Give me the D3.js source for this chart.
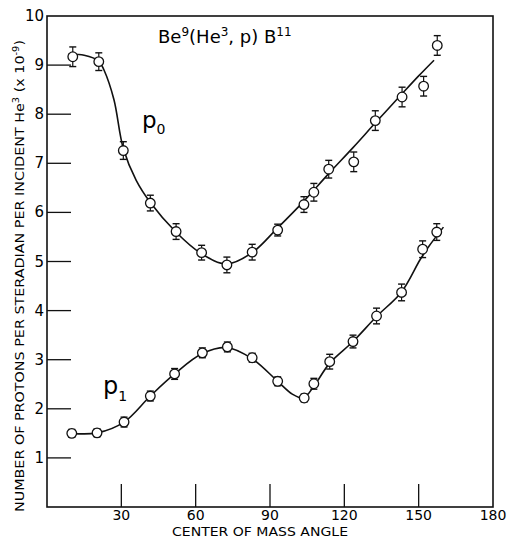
<!DOCTYPE html>
<html>
<head>
<meta charset="utf-8">
<script src="https://cdn.jsdelivr.net/npm/d3@7"></script>
<style>
  body { margin: 0; background: #fff; }
  svg { display: block; font-family: "DejaVu Sans", "Liberation Sans", sans-serif; }
  text { fill: #000; }
</style>
</head>
<body>
<svg id="chart" width="508" height="538"></svg>
<script>
// measured points (angle in degrees, yield x 10^-9)
const p0Angle = [10.4, 20.9, 30.8, 41.7, 52.1, 62.4, 72.6, 82.8, 93.1, 103.7, 107.7, 113.7, 123.8, 132.5, 143.3, 152.0, 157.5];
const p0Value = [9.17, 9.07, 7.26, 6.19, 5.61, 5.18, 4.93, 5.19, 5.64, 6.16, 6.41, 6.88, 7.03, 7.87, 8.35, 8.57, 9.40];
const p0Err   = [0.20, 0.18, 0.18, 0.16, 0.16, 0.15, 0.16, 0.16, 0.12, 0.16, 0.18, 0.18, 0.20, 0.20, 0.20, 0.20, 0.20];

const p1Angle = [10.0, 20.2, 31.1, 41.7, 51.5, 62.7, 72.8, 82.8, 93.1, 103.8, 107.7, 114.1, 123.5, 133.0, 143.1, 151.6, 157.3];
const p1Value = [1.50, 1.51, 1.73, 2.26, 2.71, 3.14, 3.26, 3.04, 2.56, 2.22, 2.51, 2.96, 3.37, 3.89, 4.37, 5.25, 5.60];
const p1Err   = [0.08, 0.08, 0.10, 0.10, 0.11, 0.10, 0.10, 0.09, 0.09, 0.08, 0.11, 0.15, 0.13, 0.16, 0.17, 0.17, 0.17];

// hand-drawn fit curves
const p0CurveAngle = [8.5, 15, 20.9, 23, 27, 30.8, 36, 41.7, 52, 62, 72.5, 82.8, 93, 103.5, 113.5, 123.5, 133, 143, 150, 156.2];
const p0CurveValue = [9.22, 9.2, 9.08, 8.9, 8.3, 7.3, 6.65, 6.2, 5.6, 5.17, 4.95, 5.18, 5.68, 6.22, 6.78, 7.32, 7.85, 8.4, 8.78, 9.1];

const p1CurveAngle = [10.0, 20.2, 31.1, 41.7, 51.5, 62.5, 72.5, 82.5, 93.1, 99, 103.5, 107.7, 114.1, 123.5, 133, 143.1, 150.5, 154, 160];
const p1CurveValue = [1.50, 1.51, 1.73, 2.26, 2.71, 3.12, 3.25, 3.03, 2.56, 2.30, 2.22, 2.46, 2.93, 3.37, 3.88, 4.38, 5.03, 5.30, 5.70];

const xTicks = [30, 60, 90, 120, 150, 180];
const yTicks = [1, 2, 3, 4, 5, 6, 7, 8, 9, 10];

const svg = d3.select("#chart");
const width = +svg.attr("width");
const height = +svg.attr("height");
const margin = {top: 16, right: 15, bottom: 31, left: 47};

const x = d3.scaleLinear().domain([0, 180]).range([margin.left, width - margin.right]);
const y = d3.scaleLinear().domain([0, 10]).range([height - margin.bottom, margin.top]);

// frame
svg.append("rect")
    .attr("x", x(0)).attr("y", y(10))
    .attr("width", x(180) - x(0)).attr("height", y(0) - y(10))
    .attr("fill", "none").attr("stroke", "#111").attr("stroke-width", 1.6);

// inner ticks
svg.append("g").selectAll("line")
    .data(yTicks.filter(d => d < 10))
    .join("line")
    .attr("x1", x(0)).attr("x2", x(0) + 24)
    .attr("y1", d => y(d)).attr("y2", d => y(d))
    .attr("stroke", "#111").attr("stroke-width", 1.3);

svg.append("g").selectAll("line")
    .data(xTicks.filter(d => d < 180))
    .join("line")
    .attr("x1", d => x(d)).attr("x2", d => x(d))
    .attr("y1", y(0)).attr("y2", y(0) - 23)
    .attr("stroke", "#111").attr("stroke-width", 1.3);

// tick labels
svg.append("g").selectAll("text")
    .data(yTicks)
    .join("text")
    .attr("x", x(0) - 3)
    .attr("y", d => y(d) + 5)
    .attr("text-anchor", "end")
    .style("font-size", "15px")
    .text(d => d);

svg.append("g").selectAll("text")
    .data(xTicks)
    .join("text")
    .attr("x", d => x(d))
    .attr("y", 520)
    .attr("text-anchor", "middle")
    .style("font-size", "14px")
    .text(d => d);

// axis titles
svg.append("text")
    .attr("x", 172)
    .attr("y", 536)
    .attr("textLength", 176)
    .attr("lengthAdjust", "spacingAndGlyphs")
    .style("font-size", "13px")
    .text("CENTER OF MASS ANGLE");

const yLab = svg.append("text")
    .attr("transform", "translate(24, 512) rotate(-90)")
    .attr("x", 0).attr("y", 0)
    .attr("textLength", 472)
    .attr("lengthAdjust", "spacingAndGlyphs")
    .style("font-size", "13px");
yLab.append("tspan").text("NUMBER OF PROTONS PER STERADIAN PER INCIDENT He");
yLab.append("tspan").attr("dy", -5).style("font-size", "9px").text("3");
yLab.append("tspan").attr("dy", 5).text(" (x 10");
yLab.append("tspan").attr("dy", -5).style("font-size", "9px").text("-9");
yLab.append("tspan").attr("dy", 5).text(")");

// reaction title
const title = svg.append("text")
    .attr("x", 158).attr("y", 43)
    .style("font-size", "18px");
title.append("tspan").text("Be");
title.append("tspan").attr("dy", -7).style("font-size", "12px").text("9");
title.append("tspan").attr("dy", 7).text("(He");
title.append("tspan").attr("dy", -7).style("font-size", "12px").text("3");
title.append("tspan").attr("dy", 7).text(", p) B");
title.append("tspan").attr("dy", -7).style("font-size", "12px").text("11");

// curve labels
const l0 = svg.append("text").attr("x", 142).attr("y", 128).style("font-size", "23px");
l0.append("tspan").text("p");
l0.append("tspan").attr("dy", 6).style("font-size", "14px").text("0");

const l1 = svg.append("text").attr("x", 103).attr("y", 394).style("font-size", "24px");
l1.append("tspan").text("p");
l1.append("tspan").attr("dy", 7).style("font-size", "14px").text("1");

// fit curves
const line = d3.line()
    .x(d => x(d[0]))
    .y(d => y(d[1]))
    .curve(d3.curveCatmullRom.alpha(0.5));

svg.append("path")
    .datum(p0CurveAngle.map((a, i) => [a, p0CurveValue[i]]))
    .attr("d", line)
    .attr("fill", "none").attr("stroke", "#111").attr("stroke-width", 1.6);

svg.append("path")
    .datum(p1CurveAngle.map((a, i) => [a, p1CurveValue[i]]))
    .attr("d", line)
    .attr("fill", "none").attr("stroke", "#111").attr("stroke-width", 1.6);

// points with error bars
function drawPoints(angles, values, errs) {
    const pts = angles.map((a, i) => ({a: a, v: values[i], e: errs[i]}));
    const g = svg.append("g").attr("stroke", "#111");

    g.selectAll("line.bar")
        .data(pts)
        .join("line")
        .attr("class", "bar")
        .attr("x1", d => x(d.a)).attr("x2", d => x(d.a))
        .attr("y1", d => y(d.v - d.e)).attr("y2", d => y(d.v + d.e))
        .attr("stroke-width", 1.2);

    g.selectAll("line.capHi")
        .data(pts)
        .join("line")
        .attr("class", "capHi")
        .attr("x1", d => x(d.a) - 3.5).attr("x2", d => x(d.a) + 3.5)
        .attr("y1", d => y(d.v + d.e)).attr("y2", d => y(d.v + d.e))
        .attr("stroke-width", 1.4);

    g.selectAll("line.capLo")
        .data(pts)
        .join("line")
        .attr("class", "capLo")
        .attr("x1", d => x(d.a) - 3.5).attr("x2", d => x(d.a) + 3.5)
        .attr("y1", d => y(d.v - d.e)).attr("y2", d => y(d.v - d.e))
        .attr("stroke-width", 1.4);

    g.selectAll("circle")
        .data(pts)
        .join("circle")
        .attr("cx", d => x(d.a))
        .attr("cy", d => y(d.v))
        .attr("r", 4.8)
        .attr("fill", "#fff")
        .attr("stroke-width", 1.3);
}

drawPoints(p0Angle, p0Value, p0Err);
drawPoints(p1Angle, p1Value, p1Err);
</script>
</body>
</html>
